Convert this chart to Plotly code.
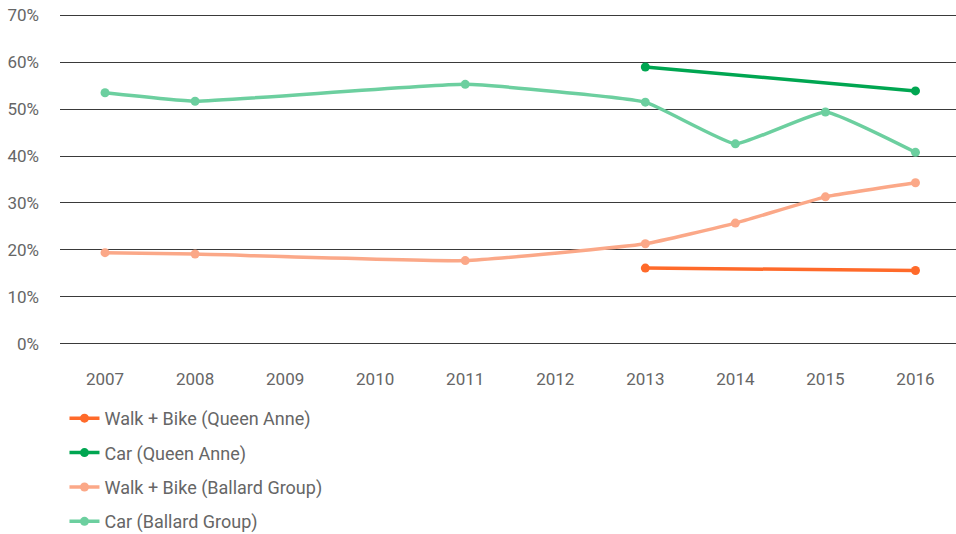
import plotly.graph_objects as go

years = [2007, 2008, 2009, 2010, 2011, 2012, 2013, 2014, 2015, 2016]
walk_bike_qa = [None, None, None, None, None, None, 16.1, None, None, 15.6]
car_qa = [None, None, None, None, None, None, 59.0, None, None, 53.9]
walk_bike_ballard = [19.4, 19.1, None, None, 17.7, None, 21.3, 25.7, 31.3, 34.3]
car_ballard = [53.5, 51.7, None, None, 55.3, None, 51.5, 42.6, 49.4, 40.8]

series = [
    ("Walk + Bike (Queen Anne)", walk_bike_qa, "#FF6A2A"),
    ("Car (Queen Anne)", car_qa, "#00A651"),
    ("Walk + Bike (Ballard Group)", walk_bike_ballard, "#FBA888"),
    ("Car (Ballard Group)", car_ballard, "#6CCF9F"),
]

fig = go.Figure()
for i, (name, vals, color) in enumerate(series):
    fig.add_trace(go.Scatter(
        x=years, y=vals, name=name, mode="lines+markers",
        connectgaps=True, legendgroup=f"g{i}",
        line=dict(color=color, width=3.5, shape="spline", smoothing=0.35),
        marker=dict(color=color, size=9),
    ))

font_family = "Roboto, 'DejaVu Sans', sans-serif"
fig.update_layout(
    width=956, height=534,
    margin=dict(l=60, r=0, t=13.6, b=188.6),
    paper_bgcolor="white", plot_bgcolor="white",
    font=dict(family=font_family, size=17, color="#666666"),
    showlegend=True,
    legend=dict(
        x=0.005, xanchor="left",
        y=0.251, yref="container", yanchor="top",
        orientation="v", tracegroupgap=8,
        font=dict(size=18, color="#666666"),
        bgcolor="rgba(0,0,0,0)",
    ),
    xaxis=dict(
        range=[2006.5, 2016.45], tickmode="array", tickvals=years,
        ticktext=[str(y) for y in years],
        showgrid=False, zeroline=False, showline=False,
        ticks="", ticklabelstandoff=22,
    ),
    yaxis=dict(
        range=[-0.3, 70.3], tickvals=[0, 10, 20, 30, 40, 50, 60, 70],
        ticktext=["0%", "10%", "20%", "30%", "40%", "50%", "60%", "70%"],
        showgrid=True, gridcolor="#3a3a3a", gridwidth=1.2,
        zeroline=False, showline=False, ticks="", ticklabelstandoff=20,
        ticklabeloverflow="allow",
    ),
)

fig.write_html(
    "out.html",
    config={"displayModeBar": False},
    post_script="document.body.style.margin='0';document.body.style.overflow='hidden';",
)
